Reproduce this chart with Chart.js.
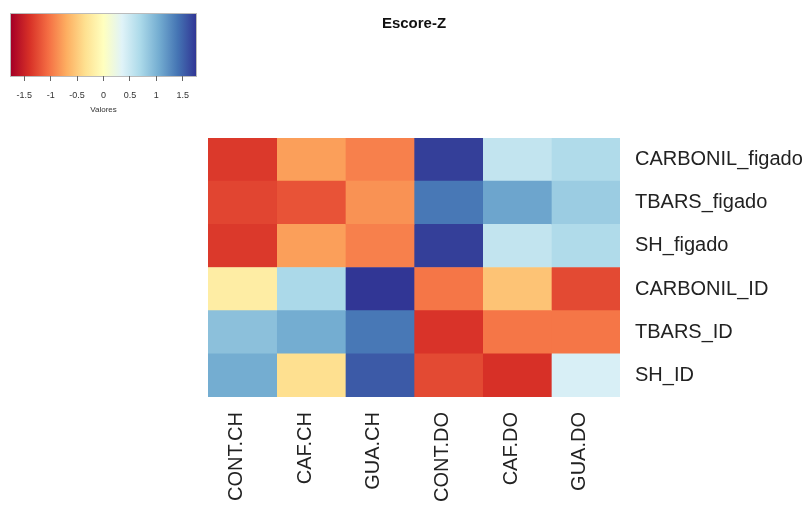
<!DOCTYPE html>
<html>
<head>
<meta charset="utf-8">
<script src="https://cdn.jsdelivr.net/npm/chart.js@4/dist/chart.umd.min.js"></script>
<style>
  html, body { margin: 0; padding: 0; background: #fff; }
  #wrap { position: relative; width: 811px; height: 505px; }
  canvas { position: absolute; left: 0; top: 0; }
</style>
</head>
<body>
<div id="wrap">
  <canvas id="heatmap" width="811" height="505"></canvas>
  <canvas id="colorKey" width="210" height="125"></canvas>
</div>
<script>
// Columns (groups) and rows (markers)
const colLabels = ["CONT.CH", "CAF.CH", "GUA.CH", "CONT.DO", "CAF.DO", "GUA.DO"];
const rowLabels = ["CARBONIL_figado", "TBARS_figado", "SH_figado", "CARBONIL_ID", "TBARS_ID", "SH_ID"];

// Z-scores, one array per row
const carbonilFigado = [-1.35, -0.78, -0.95, 1.7, 0.55, 0.67];
const tbarsFigado = [-1.28, -1.2, -0.85, 1.38, 1.1, 0.8];
const shFigado = [-1.35, -0.78, -0.95, 1.7, 0.55, 0.67];
const carbonilID = [-0.2, 0.7, 1.75, -1.0, -0.55, -1.25];
const tbarsID = [0.9, 1.05, 1.38, -1.38, -1.0, -1.0];
const shID = [1.05, -0.35, 1.55, -1.25, -1.4, 0.4];

// Colour key ticks
const keyTicks = [-1.5, -1, -0.5, 0, 0.5, 1, 1.5];

const zRows = [carbonilFigado, tbarsFigado, shFigado, carbonilID, tbarsID, shID];
const zMin = -1.75, zMax = 1.75;

// RdYlBu reversed (blue = high)
const palette = ["#a50026", "#d73027", "#f46d43", "#fdae61", "#fee090", "#ffffbf",
                 "#e0f3f8", "#abd9e9", "#74add1", "#4575b4", "#313695"];

function hexToRgb(h) {
    return [parseInt(h.substr(1, 2), 16), parseInt(h.substr(3, 2), 16), parseInt(h.substr(5, 2), 16)];
}

function zColor(v) {
    let t = (v - zMin) / (zMax - zMin);
    t = Math.max(0, Math.min(1, t)) * (palette.length - 1);
    const i = Math.min(Math.floor(t), palette.length - 2);
    const f = t - i;
    const a = hexToRgb(palette[i]), b = hexToRgb(palette[i + 1]);
    const c = a.map((x, k) => Math.round(x + (b[k] - x) * f));
    return "rgb(" + c.join(",") + ")";
}

const fontFamily = "'Liberation Sans', Arial, sans-serif";

// Heatmap: one floating-bar dataset per column, rows on the category axis
const datasets = colLabels.map(function (col, j) {
    return {
        label: col,
        data: rowLabels.map(() => [j, j + 1]),
        backgroundColor: zRows.map(row => zColor(row[j])),
        borderWidth: 0,
        borderSkipped: false,
        barPercentage: 1,
        categoryPercentage: 1,
        xAxisID: "x",
        yAxisID: "y"
    };
});

new Chart(document.getElementById("heatmap"), {
    type: "bar",
    data: { labels: rowLabels, datasets: datasets },
    options: {
        indexAxis: "y",
        responsive: false,
        animation: false,
        layout: { padding: { left: 17, right: 0, top: 0, bottom: 0 } },
        plugins: {
            legend: { display: false },
            tooltip: { enabled: false },
            title: {
                display: true,
                text: "Escore-Z",
                color: "#111",
                font: { family: fontFamily, size: 15, weight: "bold" },
                padding: { top: 15, bottom: 105 }
            }
        },
        scales: {
            y: {
                type: "category",
                position: "right",
                stacked: true,
                grid: { display: false, drawTicks: false },
                border: { display: false },
                ticks: {
                    color: "#222",
                    padding: 15,
                    font: { family: fontFamily, size: 20 }
                },
                afterFit: function (scale) { scale.width = 191; }
            },
            // empty spacer on the left so the grid starts where the reference does
            spacer: {
                type: "linear",
                position: "left",
                grid: { display: false, drawTicks: false },
                border: { display: false },
                ticks: { display: false },
                afterFit: function (scale) { scale.width = 191; }
            },
            x: {
                type: "linear",
                min: 0,
                max: colLabels.length,
                display: false
            },
            cols: {
                type: "category",
                labels: colLabels,
                position: "bottom",
                offset: true,
                grid: { display: false, drawTicks: false },
                border: { display: false },
                ticks: {
                    color: "#222",
                    padding: 15,
                    labelOffset: -6,
                    minRotation: 90,
                    maxRotation: 90,
                    font: { family: fontFamily, size: 20 }
                },
                afterFit: function (scale) { scale.height = 108; }
            }
        }
    }
});

// Colour key: linear axis with a gradient filled across the chart area
const gradientFill = {
    id: "gradientFill",
    beforeDraw: function (chart) {
        const area = chart.chartArea;
        const sx = chart.scales.x;
        const ctx = chart.ctx;
        const g = ctx.createLinearGradient(sx.getPixelForValue(zMin), 0, sx.getPixelForValue(zMax), 0);
        palette.forEach((c, i) => g.addColorStop(i / (palette.length - 1), c));
        ctx.save();
        ctx.fillStyle = g;
        ctx.fillRect(area.left, area.top, area.right - area.left, area.bottom - area.top);
        ctx.strokeStyle = "#bbb";
        ctx.lineWidth = 1;
        ctx.strokeRect(area.left - 0.5, area.top - 0.5, area.right - area.left + 1, area.bottom - area.top + 1);
        ctx.restore();
    }
};

new Chart(document.getElementById("colorKey"), {
    type: "scatter",
    data: { datasets: [{ data: [] }] },
    plugins: [gradientFill],
    options: {
        responsive: false,
        animation: false,
        layout: { padding: { left: 11, right: 14, top: 14, bottom: 0 } },
        plugins: { legend: { display: false }, tooltip: { enabled: false } },
        scales: {
            x: {
                type: "linear",
                min: zMin,
                max: zMax,
                afterBuildTicks: function (scale) {
                    scale.ticks = keyTicks.map(v => ({ value: v }));
                },
                afterFit: function (scale) { scale.height = 49; },
                grid: { drawOnChartArea: false, tickLength: 5, color: "#666", tickColor: "#666" },
                border: { display: false },
                ticks: {
                    color: "#333",
                    padding: 9,
                    maxRotation: 0,
                    autoSkip: false,
                    callback: v => String(v),
                    font: { family: fontFamily, size: 9 }
                },
                title: {
                    display: true,
                    text: "Valores",
                    color: "#333",
                    padding: { top: 2, bottom: 10 },
                    font: { family: fontFamily, size: 8 }
                }
            },
            y: { display: false, min: 0, max: 1 }
        }
    }
});
</script>
</body>
</html>
